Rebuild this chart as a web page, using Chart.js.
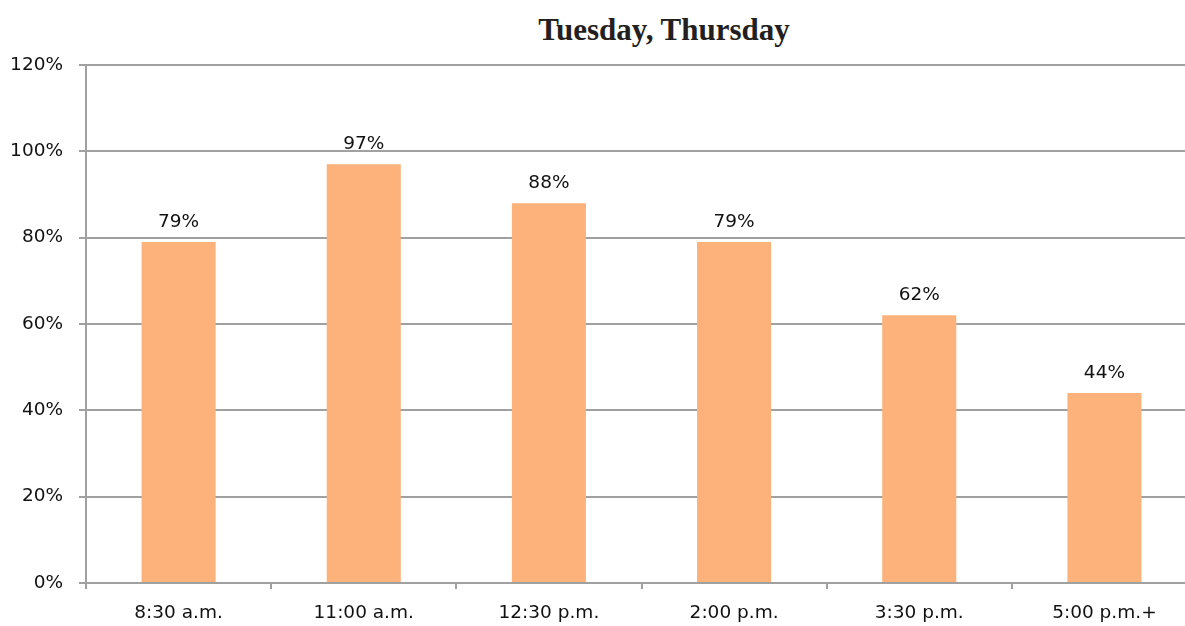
<!DOCTYPE html>
<html>
<head>
<meta charset="utf-8">
<script src="https://cdn.jsdelivr.net/npm/chart.js@4"></script>
<style>
  html, body { margin: 0; padding: 0; background: #ffffff; overflow: hidden; width: 1185px; height: 626px; }
  #title { position: absolute; left: 0; top: 14px; width: 1328px; text-align: center;
           font-family: "Liberation Serif", serif; font-weight: bold; font-size: 31px; line-height: 31px; color: #231f20; }
  #wrap { position: absolute; left: 0; top: 0; width: 1200px; height: 626px; }
</style>
</head>
<body>
<div id="title">Tuesday, Thursday</div>
<div id="wrap"><canvas id="c"></canvas></div>
<script>
const categories = ["8:30 a.m.", "11:00 a.m.", "12:30 p.m.", "2:00 p.m.", "3:30 p.m.", "5:00 p.m.+"];
const attendance = [79, 97, 88, 79, 62, 44];
const yMin = 0, yMax = 120, yStep = 20;

const FONT = "DejaVu Sans";
const GRID = "#a0a0a0";

const valueLabels = {
  id: "valueLabels",
  afterDatasetsDraw(chart) {
    const ctx = chart.ctx;
    const meta = chart.getDatasetMeta(0);
    ctx.save();
    ctx.font = "18.5px '" + FONT + "'";
    ctx.fillStyle = "#111111";
    ctx.textAlign = "center";
    ctx.textBaseline = "alphabetic";
    meta.data.forEach((bar, i) => {
      ctx.fillText(attendance[i] + "%", bar.x, bar.y - 15);
    });
    ctx.restore();
  }
};

new Chart(document.getElementById("c"), {
  type: "bar",
  data: {
    labels: categories,
    datasets: [{
      data: attendance,
      backgroundColor: "#feb27b",
      borderWidth: 0,
      categoryPercentage: 0.8,
      barPercentage: 0.5
    }]
  },
  options: {
    responsive: true,
    maintainAspectRatio: false,
    animation: false,
    layout: { padding: { top: 65, right: 3, left: 0, bottom: 0 } },
    plugins: { legend: { display: false }, tooltip: { enabled: false }, title: { display: false } },
    scales: {
      x: {
        offset: true,
        grid: { display: true, drawOnChartArea: false, drawTicks: true, tickLength: 6, color: GRID, lineWidth: 2, offset: true },
        border: { display: true, color: GRID, width: 2 },
        ticks: { color: "#111111", font: { family: FONT, size: 18.5 }, padding: 13, maxRotation: 0, autoSkip: false },
        afterFit(scale) { scale.height = 43; }
      },
      y: {
        min: yMin, max: yMax,
        grid: { color: GRID, lineWidth: 2, drawTicks: true, tickLength: 7 },
        border: { display: true, color: GRID, width: 2 },
        ticks: { stepSize: yStep, color: "#111111", font: { family: FONT, size: 18.5 }, padding: 16,
                 callback: v => v + "%" },
        afterFit(scale) { scale.width = 86; }
      }
    }
  },
  plugins: [valueLabels]
});
</script>
</body>
</html>
